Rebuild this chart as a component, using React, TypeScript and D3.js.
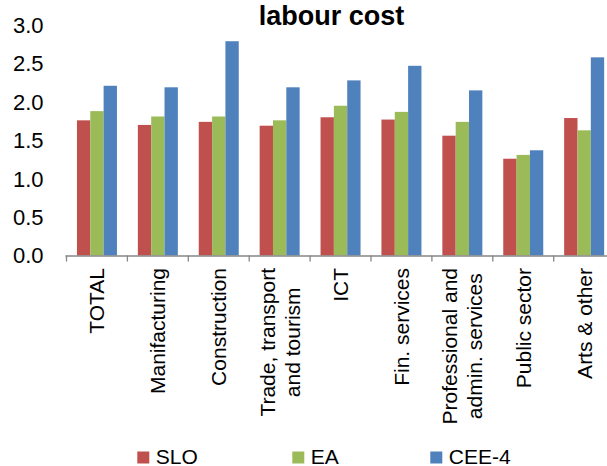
import React from "react";
import * as d3 from "d3";

const categories: string[][] = [
  ["TOTAL"],
  ["Manifacturing"],
  ["Construction"],
  ["Trade, transport", "and tourism"],
  ["ICT"],
  ["Fin. services"],
  ["Professional and", "admin. services"],
  ["Public sector"],
  ["Arts & other"],
];
const seriesNames = ["SLO", "EA", "CEE-4"];
const sloValues = [1.76, 1.70, 1.74, 1.69, 1.80, 1.77, 1.56, 1.26, 1.79];
const eaValues = [1.88, 1.81, 1.81, 1.76, 1.95, 1.87, 1.74, 1.31, 1.63];
const ceeValues = [2.21, 2.19, 2.79, 2.19, 2.28, 2.47, 2.15, 1.37, 2.58];
const yTicks = [0, 0.5, 1, 1.5, 2, 2.5, 3];
const colors = ["#C0504D", "#9BBB59", "#4F81BD"];
const title = "labour cost";

const W = 607;
const H = 466;
const FONT = "'Liberation Sans', Arial, sans-serif";

export default function App() {
  const series = [sloValues, eaValues, ceeValues];
  const x0 = d3
    .scaleBand<number>()
    .domain(categories.map((_, i) => i))
    .range([66.5, 614.6])
    .padding(0);
  const step = x0.bandwidth();
  const groupW = 40;
  const x1 = d3
    .scaleBand<number>()
    .domain(seriesNames.map((_, i) => i))
    .range([(step - groupW) / 2, (step + groupW) / 2])
    .padding(0);
  const y = d3.scaleLinear().domain([0, 3]).range([255.5, 25.1]);

  const ctx =
    typeof document !== "undefined"
      ? document.createElement("canvas").getContext("2d")
      : null;
  const labelFont = `21px ${FONT}`;
  const measure = (s: string) => {
    if (!ctx) return s.length * 10;
    ctx.font = labelFont;
    return ctx.measureText(s).width;
  };

  const labelTop = 268;
  const lineH = 25;
  const legendX = [137.3, 292.3, 430.3];

  return (
    <svg
      width={W}
      height={H}
      style={{ position: "fixed", left: 0, top: 0, background: "#fff" }}
      fontFamily={FONT}
    >
      <rect x={0} y={0} width={W} height={H} fill="#fff" />
      <text
        x={331.5}
        y={24.5}
        textAnchor="middle"
        fontWeight="bold"
        fontSize={27}
        fill="#000"
      >
        {title}
      </text>

      {yTicks.map((t) => (
        <text
          key={t}
          x={43.5}
          y={y(t)}
          dy="0.36em"
          textAnchor="end"
          fontSize={22}
          fill="#000"
        >
          {d3.format(".1f")(t)}
        </text>
      ))}

      {categories.map((_, ci) =>
        series.map((vals, si) => (
          <rect
            key={`${ci}-${si}`}
            x={(x0(ci) as number) + (x1(si) as number)}
            y={y(vals[ci])}
            width={x1.bandwidth()}
            height={y(0) - y(vals[ci])}
            fill={colors[si]}
          />
        ))
      )}

      <line
        x1={65.5}
        x2={W + 20}
        y1={y(0) + 0.5}
        y2={y(0) + 0.5}
        stroke="#868686"
        strokeWidth={1.3}
      />
      {d3.range(categories.length + 1).map((i) => {
        const xx = 66.5 + i * step;
        return (
          <line
            key={i}
            x1={xx}
            x2={xx}
            y1={y(0)}
            y2={y(0) + 6}
            stroke="#868686"
            strokeWidth={1.3}
          />
        );
      })}

      {categories.map((lines, ci) => {
        const cx = (x0(ci) as number) + step / 2;
        const maxLen = Math.max(...lines.map(measure));
        const n = lines.length;
        return (
          <g key={ci} transform={`translate(${cx},${labelTop}) rotate(-90)`}>
            {lines.map((ln, li) => (
              <text
                key={li}
                x={-maxLen / 2}
                y={7.5 + (li - (n - 1) / 2) * lineH}
                textAnchor="middle"
                fontSize={21}
                fill="#000"
              >
                {ln}
              </text>
            ))}
          </g>
        );
      })}

      {seriesNames.map((name, si) => (
        <g key={name}>
          <rect
            x={legendX[si]}
            y={451.5}
            width={12}
            height={12}
            fill={colors[si]}
          />
          <text x={legendX[si] + 18.5} y={463.5} fontSize={21} fill="#000">
            {name}
          </text>
        </g>
      ))}
    </svg>
  );
}
